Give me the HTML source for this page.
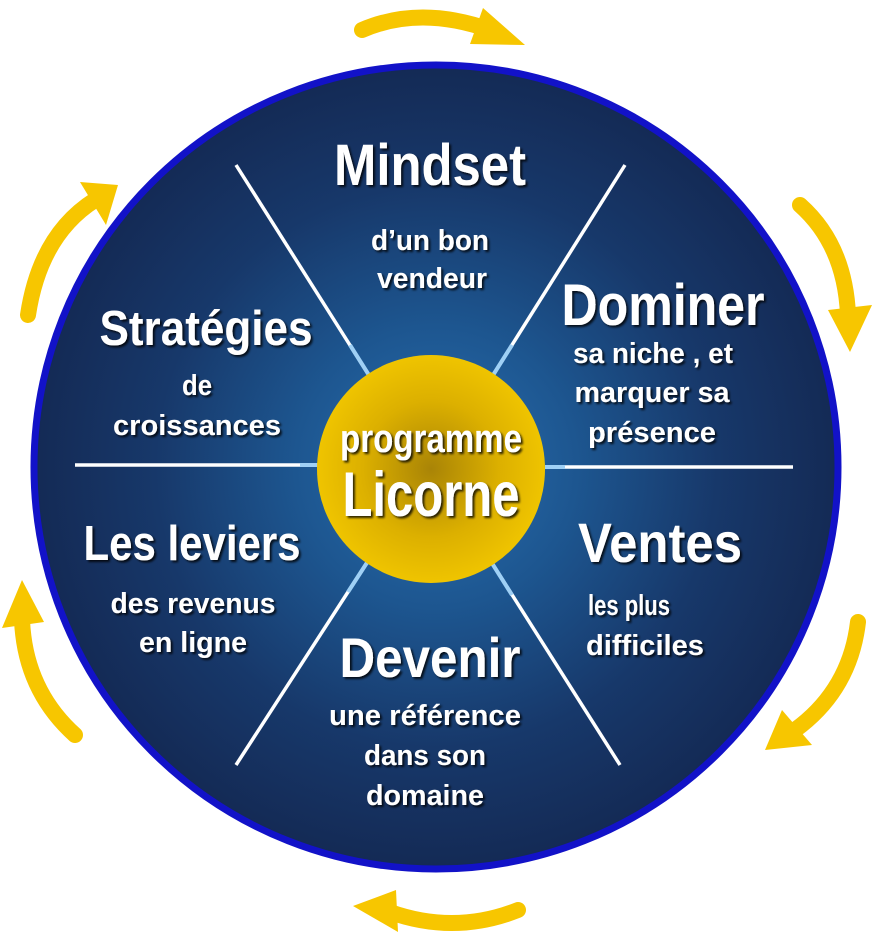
<!DOCTYPE html>
<html><head><meta charset="utf-8"><style>
html,body{margin:0;padding:0;background:#fff;width:881px;height:939px;overflow:hidden}
text{font-family:"Liberation Sans Narrow","Liberation Sans",sans-serif;font-weight:bold;fill:#fff;text-anchor:middle}
</style></head><body>
<svg width="881" height="939" viewBox="0 0 881 939" xmlns="http://www.w3.org/2000/svg">
<defs>
<radialGradient id="bg" cx="50%" cy="50%" r="50%">
<stop offset="0" stop-color="#2a6fb0"/><stop offset="0.35" stop-color="#1d5690"/><stop offset="0.7" stop-color="#17386a"/><stop offset="1" stop-color="#142a55"/>
</radialGradient>
<radialGradient id="gold" cx="50%" cy="50%" r="50%">
<stop offset="0" stop-color="#a98406"/><stop offset="0.6" stop-color="#dcb000"/><stop offset="1" stop-color="#efc400"/>
</radialGradient>
<filter id="sh"><feDropShadow dx="2" dy="2" stdDeviation="1" flood-color="#000" flood-opacity="0.8"/></filter>
</defs>
<circle cx="436" cy="467" r="402" fill="url(#bg)" stroke="#1212c8" stroke-width="7"/>
<g stroke="#fff" stroke-width="3.5">
<line x1="75" y1="465" x2="320" y2="465"/><line x1="545" y1="467" x2="793" y2="467"/>
<line x1="236" y1="165" x2="372" y2="380"/><line x1="625" y1="165" x2="490" y2="380"/>
<line x1="236" y1="765" x2="370" y2="558"/><line x1="620" y1="765" x2="490" y2="560"/>
</g>
<g stroke="#9fd0f5" stroke-width="4">
<line x1="300" y1="465" x2="320" y2="465"/><line x1="545" y1="467" x2="565" y2="467"/>
<line x1="350" y1="345" x2="372" y2="380"/><line x1="512" y1="345" x2="490" y2="380"/>
<line x1="348" y1="592" x2="370" y2="558"/><line x1="512" y1="595" x2="490" y2="560"/>
</g>
<circle cx="431" cy="469" r="114" fill="url(#gold)"/>
<g filter="url(#sh)">
<text x="431" y="452" font-size="40" textLength="182" lengthAdjust="spacingAndGlyphs">programme</text>
<text x="431" y="516" font-size="63" textLength="177" lengthAdjust="spacingAndGlyphs">Licorne</text>
<text x="430" y="185" font-size="58" textLength="192" lengthAdjust="spacingAndGlyphs">Mindset</text>
<text x="430" y="250" font-size="29" textLength="118" lengthAdjust="spacingAndGlyphs">d’un bon</text>
<text x="432" y="288" font-size="29" textLength="110" lengthAdjust="spacingAndGlyphs">vendeur</text>
<text x="663" y="325" font-size="58" textLength="203" lengthAdjust="spacingAndGlyphs">Dominer</text>
<text x="653" y="363" font-size="29" textLength="160" lengthAdjust="spacingAndGlyphs">sa niche , et</text>
<text x="652" y="402" font-size="29" textLength="155" lengthAdjust="spacingAndGlyphs">marquer sa</text>
<text x="652" y="442" font-size="29" textLength="128" lengthAdjust="spacingAndGlyphs">présence</text>
<text x="206" y="345" font-size="49" textLength="213" lengthAdjust="spacingAndGlyphs">Stratégies</text>
<text x="197" y="395" font-size="29" textLength="30" lengthAdjust="spacingAndGlyphs">de</text>
<text x="197" y="435" font-size="29" textLength="168" lengthAdjust="spacingAndGlyphs">croissances</text>
<text x="192" y="560" font-size="49" textLength="217" lengthAdjust="spacingAndGlyphs">Les leviers</text>
<text x="193" y="613" font-size="29" textLength="165" lengthAdjust="spacingAndGlyphs">des revenus</text>
<text x="193" y="652" font-size="29" textLength="108" lengthAdjust="spacingAndGlyphs">en ligne</text>
<text x="660" y="562" font-size="56" textLength="164" lengthAdjust="spacingAndGlyphs">Ventes</text>
<text x="629" y="615" font-size="29" textLength="82" lengthAdjust="spacingAndGlyphs">les plus</text>
<text x="645" y="655" font-size="29" textLength="118" lengthAdjust="spacingAndGlyphs">difficiles</text>
<text x="430" y="677" font-size="56" textLength="181" lengthAdjust="spacingAndGlyphs">Devenir</text>
<text x="425" y="725" font-size="29" textLength="192" lengthAdjust="spacingAndGlyphs">une référence</text>
<text x="425" y="765" font-size="29" textLength="122" lengthAdjust="spacingAndGlyphs">dans son</text>
<text x="425" y="805" font-size="29" textLength="118" lengthAdjust="spacingAndGlyphs">domaine</text>
</g>
<g fill="none" stroke="#f7c600" stroke-width="16" stroke-linecap="round">
<path d="M362 30 Q420 5 490 30"/>
<path d="M800 205 Q845 245 848 315"/>
<path d="M858 622 Q850 690 795 730"/>
<path d="M518 910 Q455 935 390 912"/>
<path d="M75 735 Q25 690 22 620"/>
<path d="M28 315 Q40 235 95 200"/>
</g>
<g fill="#f7c600">
<polygon points="483,8 525,45 470,44"/>
<polygon points="828,310 872,305 850,352"/>
<polygon points="782,710 812,745 765,750"/>
<polygon points="396,890 398,932 353,906"/>
<polygon points="2,628 44,622 22,580"/>
<polygon points="80,182 118,185 106,225"/>
</g>
</svg>
</body></html>
